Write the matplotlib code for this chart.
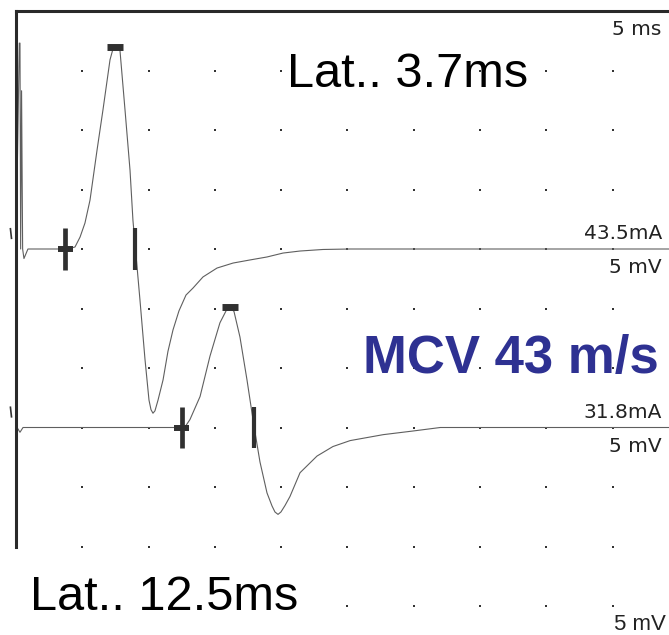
"""
plot.py
Motor nerve conduction traces: distal and proximal stimulation, with latency and MCV labels.
"""
import numpy as np
import matplotlib
matplotlib.use('Agg')
import matplotlib.pyplot as plt

# === DATA ===
# time in ms, amplitude in mV relative to each trace's baseline
t_distal = [0.0, 0.25, 0.3, 0.35, 0.42, 0.5, 0.6, 0.9, 3.7, 4.07, 4.45, 4.83, 5.2,
            5.58, 6.11, 6.56, 7.09, 7.31, 7.47, 7.69, 7.84, 8.22, 8.6, 8.82, 9.01,
            9.35, 9.73, 10.03, 10.18, 10.33, 10.48, 10.71, 11.09, 11.46, 11.84,
            12.29, 12.82, 13.35, 14.1, 15.16, 16.37, 17.65, 18.93, 20.14, 21.42,
            23.15, 25.2, 50.0]
v_distal = [0.0, 17.3, 17.3, 0.0, 13.3, 0.0, -0.8, 0.0, 0.0, 0.05, 0.17, 1.0, 2.18,
            4.1, 8.3, 11.7, 15.9, 16.8, 17.0, 16.9, 16.7, 11.7, 6.6, 2.4, 0.0,
            -4.3, -9.3, -12.7, -13.5, -13.8, -13.6, -12.7, -11.0, -8.6, -6.8,
            -5.2, -3.87, -3.28, -2.35, -1.6, -1.18, -0.92, -0.67, -0.34, -0.17,
            -0.04, 0.0, 0.0]

t_proximal = [0.0, 0.08, 0.3, 0.53, 12.5, 12.82, 13.12, 13.88, 14.63, 15.38, 15.84,
              16.14, 16.44, 16.89, 17.42, 17.95, 18.4, 18.93, 19.31, 19.53, 19.76,
              19.98, 20.29, 20.66, 21.42, 22.7, 23.9, 25.2, 27.7, 29.9, 32.0, 50.0]
v_proximal = [0.0, 0.0, -0.4, 0.0, 0.0, 0.17, 0.67, 2.6, 6.0, 8.8, 9.8,
              10.1, 9.75, 7.6, 4.0, 0.1, -2.9, -5.5, -6.6, -7.1, -7.3,
              -7.1, -6.55, -5.8, -3.8, -2.4, -1.6, -1.1, -0.6, -0.3, 0.0, 0.0]

baselines = [30, 15]            # mV offset of each trace on the screen
onset_lat = [3.7, 12.5]         # ms, onset cursor
peak_lat = [7.47, 16.14]        # ms, negative peak cursor
peak_amp = [17.0, 10.1]         # mV
cross_lat = [9.01, 17.95]       # ms, baseline crossing cursor
stim_current = ['43.5mA', '31.8mA']
gain_labels = ['5 mV', '5 mV']
mcv = 43                        # m/s

DIV_MS = 5
DIV_MV = 5

# === FIGURE ===
W, H = 669, 635
fig = plt.figure(figsize=(W / 100, H / 100), dpi=100)
fig.patch.set_facecolor('white')
ax = fig.add_axes([16 / W, 29 / H, 663 / W, 595 / H])
ax.set_xlim(0, 10 * DIV_MS)
ax.set_ylim(0, 10 * DIV_MV)
ax.set_xticks([])
ax.set_yticks([])
for side in ['right', 'bottom']:
    ax.spines[side].set_visible(False)
for side in ['top', 'left']:
    ax.spines[side].set_color('#2a2a2a')
    ax.spines[side].set_linewidth(2.2)
ax.spines['left'].set_bounds(DIV_MV, 10 * DIV_MV)

# grid dots
gx, gy = np.meshgrid(np.arange(DIV_MS, 10 * DIV_MS, DIV_MS), np.arange(0, 10 * DIV_MV, DIV_MV))
ax.scatter(gx.ravel(), gy.ravel(), s=2.2, marker='s', color='#333333', lw=0, zorder=1)

# traces
traces = [(t_distal, v_distal), (t_proximal, v_proximal)]
mk = '#303030'
for (t, v), base, on, pk, amp, cr in zip(traces, baselines, onset_lat, peak_lat, peak_amp, cross_lat):
    ax.plot(t, np.array(v) + base, color='#5f5f5f', lw=0.8, zorder=2,
            solid_joinstyle='round')
    # onset cross
    ax.vlines(on, base - 1.76, base + 1.76, color=mk, lw=3.4, zorder=3)
    ax.hlines(base, on - 0.57, on + 0.57, color=mk, lw=4.3, zorder=3)
    # peak box
    ax.hlines(base + amp, pk - 0.57, pk + 0.57, color=mk, lw=5.0, zorder=3)
    # baseline crossing bar
    ax.vlines(cr, base - 1.76, base + 1.76, color=mk, lw=3.0, zorder=3)
    # channel marker at the left edge
    ax.plot([-0.42, -0.34], [base + 1.7, base + 0.9], color='#333333', lw=1.2, clip_on=False)

# labels on the right
small = dict(family='DejaVu Sans', fontsize=14.5, color='#222222', ha='right', va='baseline')
ax.text(48.7, 48.0, '5 ms', **small)
ax.text(48.7, 30.85, stim_current[0], **small)
ax.text(48.7, 28.0, gain_labels[0], **small)
ax.text(48.7, 15.8, stim_current[1], **small)
ax.text(48.7, 12.9, gain_labels[1], **small)
ax.text(49.0, -2.0, '5 mV', family='Liberation Sans', fontsize=16, color='#222222',
        ha='right', va='baseline')

# latency and conduction velocity
big = dict(family='Liberation Sans', fontsize=35, color='black', ha='left', va='baseline')
ax.text(20.4, 43.6, f'Lat.. {onset_lat[0]}ms', **big)
ax.text(1.06, -0.34, f'Lat.. {onset_lat[1]}ms', zorder=5,
        bbox=dict(facecolor='white', edgecolor='none', pad=6), **big)
ax.text(26.2, 19.6, f'MCV {mcv} m/s', family='Liberation Sans', fontsize=38,
        fontweight='bold', color='#2e3192', ha='left', va='baseline')

plt.savefig('out.png', dpi=100, facecolor='white')
plt.close()
